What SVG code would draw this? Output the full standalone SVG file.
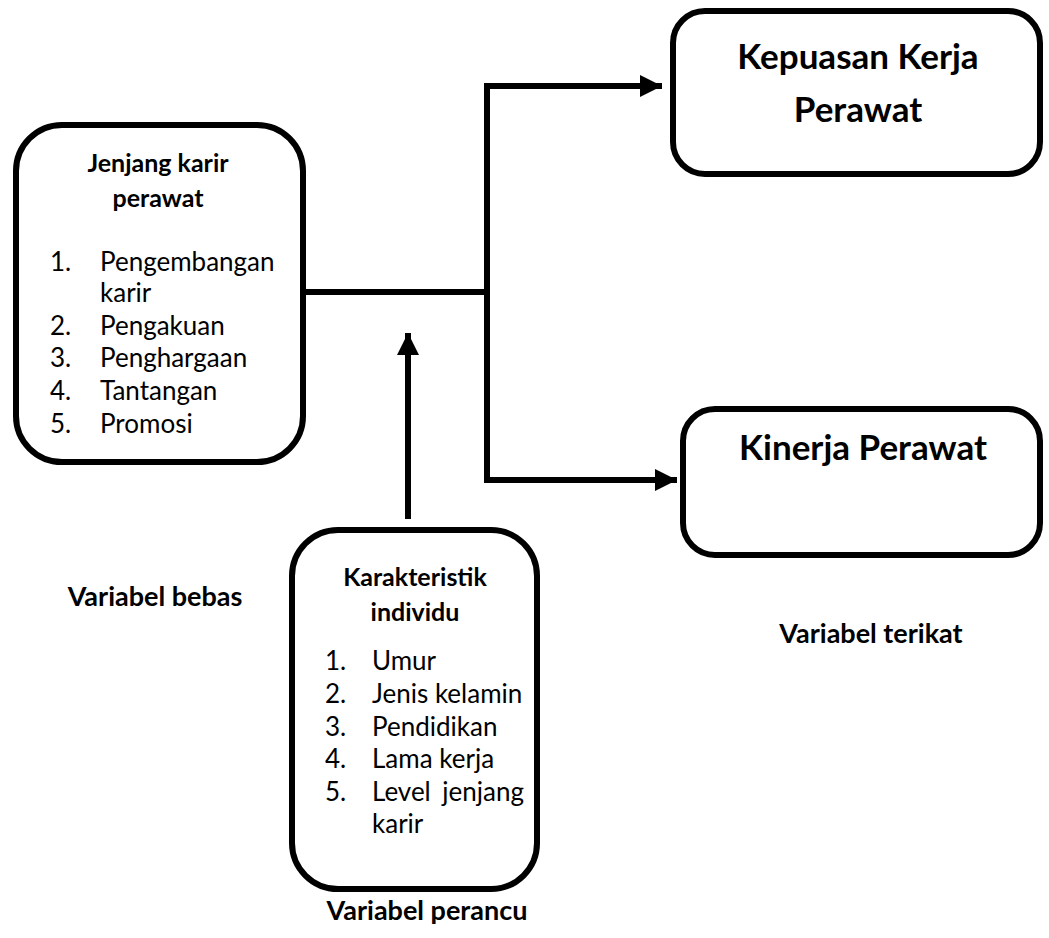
<svg xmlns="http://www.w3.org/2000/svg" width="1049" height="938" viewBox="0 0 1049 938">
  <style>
    .box { fill: #ffffff; stroke: #000000; stroke-width: 6; }
    .wire { fill: none; stroke: #000000; stroke-width: 6; }
    text { font-family: Lato, "Liberation Sans", sans-serif; fill: #000000; }
    .title { font-size: 25px; font-weight: bold; text-anchor: middle; }
    .big { font-size: 35px; font-weight: bold; text-anchor: middle; }
    .item { font-size: 26px; }
    .cap { font-size: 27px; font-weight: bold; text-anchor: middle; }
  </style>
  <defs>
    <marker id="head" viewBox="0 0 22 22" refX="22" refY="11" markerWidth="22" markerHeight="22" markerUnits="userSpaceOnUse" orient="auto">
      <path d="M0,0 L22,11 L0,22 Z" fill="#000000"/>
    </marker>
  </defs>

  <!-- connectors -->
  <g id="connectors">
    <line class="wire" x1="305" y1="292" x2="490" y2="292"/>
    <polyline class="wire" points="640,86 487,86 487,480 655,480"/>
    <line class="wire" x1="487" y1="86" x2="662" y2="86" marker-end="url(#head)"/>
    <line class="wire" x1="487" y1="480" x2="677" y2="480" marker-end="url(#head)"/>
    <line class="wire" x1="408" y1="519" x2="408" y2="333" marker-end="url(#head)"/>
  </g>

  <!-- independent variable -->
  <g id="jenjang-karir">
    <rect class="box" x="16" y="125" width="287" height="337" rx="46" ry="46"/>
    <text class="title" x="158" y="172">Jenjang karir</text>
    <text class="title" x="158" y="207">perawat</text>
    <g class="item">
      <text x="50" y="271">1.</text><text x="100" y="271">Pengembangan</text>
      <text x="100" y="302">karir</text>
      <text x="50" y="335">2.</text><text x="100" y="335">Pengakuan</text>
      <text x="50" y="367">3.</text><text x="100" y="367">Penghargaan</text>
      <text x="50" y="400">4.</text><text x="100" y="400">Tantangan</text>
      <text x="50" y="433">5.</text><text x="100" y="433">Promosi</text>
    </g>
  </g>

  <!-- dependent variables -->
  <g id="kepuasan-kerja">
    <rect class="box" x="673" y="11" width="367" height="163" rx="32" ry="32"/>
    <text class="big" x="858" y="69">Kepuasan Kerja</text>
    <text class="big" x="858" y="122">Perawat</text>
  </g>

  <g id="kinerja">
    <rect class="box" x="683" y="409" width="357" height="146" rx="32" ry="32"/>
    <text class="big" x="863" y="460">Kinerja Perawat</text>
  </g>

  <!-- confounding variable -->
  <g id="karakteristik">
    <rect class="box" x="292" y="530" width="245" height="359" rx="46" ry="46"/>
    <text class="title" x="415" y="586">Karakteristik</text>
    <text class="title" x="415" y="621">individu</text>
    <g class="item">
      <text x="325" y="670">1.</text><text x="372" y="670">Umur</text>
      <text x="325" y="703">2.</text><text x="372" y="703">Jenis kelamin</text>
      <text x="325" y="736">3.</text><text x="372" y="736">Pendidikan</text>
      <text x="325" y="768">4.</text><text x="372" y="768">Lama kerja</text>
      <text x="325" y="801">5.</text><text x="372" y="801">Level</text><text x="524" y="801" text-anchor="end">jenjang</text>
      <text x="372" y="833">karir</text>
    </g>
  </g>

  <!-- captions -->
  <g id="captions">
    <text class="cap" x="155" y="606">Variabel bebas</text>
    <text class="cap" x="871" y="643">Variabel terikat</text>
    <text class="cap" x="427" y="920">Variabel perancu</text>
  </g>
</svg>
